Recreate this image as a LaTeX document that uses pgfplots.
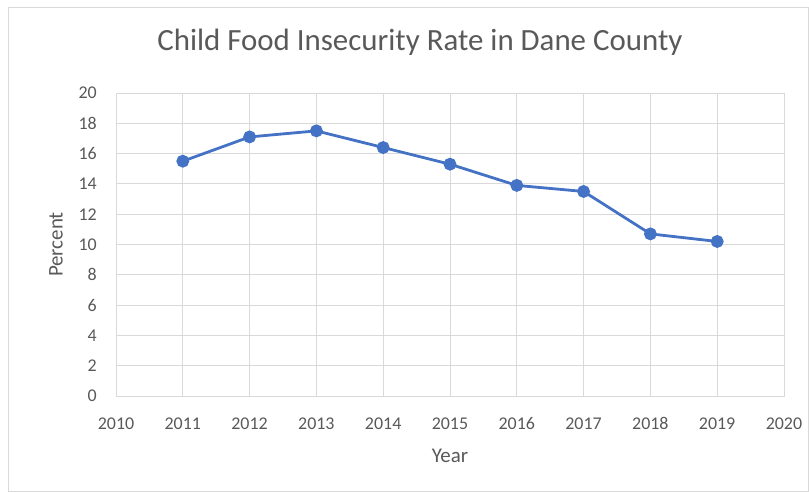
\documentclass[border=0pt]{standalone}
\usepackage{pgfplots}
\pgfplotsset{compat=1.18}
\usepackage{fontspec}
\setmainfont{Carlito}
\definecolor{txt}{HTML}{595959}
\definecolor{grd}{HTML}{D9D9D9}
\definecolor{ln}{HTML}{4472C4}
\begin{document}
\begin{tikzpicture}
\path[use as bounding box] (0,0) rectangle (809bp,492bp);
\draw[grd, line width=0.8bp] (8bp,1bp) rectangle (808bp,485bp);
\begin{axis}[
  at={(116bp,96bp)}, anchor=south west,
  scale only axis, width=668bp, height=303bp,
  xmin=2010, xmax=2020, ymin=0, ymax=20,
  xtick={2010,...,2020}, ytick={0,2,...,20},
  xticklabel style={/pgf/number format/1000 sep={}},
  /pgf/number format/assume math mode=true,
  grid=major,
  major grid style={grd, line width=0.8bp},
  axis line style={grd, line width=0.8bp},
  tick style={draw=none},
  ticklabel style={font=\fontsize{18}{20}\selectfont, text=txt, inner sep=0pt},
  xticklabel style={anchor=base, yshift=-33bp},
  yticklabel style={anchor=east, xshift=-19bp},
  xlabel={Year}, ylabel={Percent},
  label style={font=\fontsize{21}{24}\selectfont, text=txt},
  xlabel style={at={(axis description cs:0.5,-0.221)}, anchor=base},
  ylabel style={at={(axis description cs:-0.0898,0.5)}, anchor=center, rotate=0},
  title={Child Food Insecurity Rate in Dane County},
  title style={font=\fontsize{31}{36}\selectfont, text=txt, at={(axis description cs:0.455,1.122)}, anchor=base},
]
\addplot[ln, line width=2.8bp, mark=*, mark size=5bp, mark options={fill=ln, draw=ln}] coordinates {
(2011,15.5) (2012,17.1) (2013,17.5) (2014,16.4) (2015,15.3) (2016,13.9) (2017,13.5) (2018,10.7) (2019,10.2)
};
\end{axis}
\end{tikzpicture}
\end{document}
